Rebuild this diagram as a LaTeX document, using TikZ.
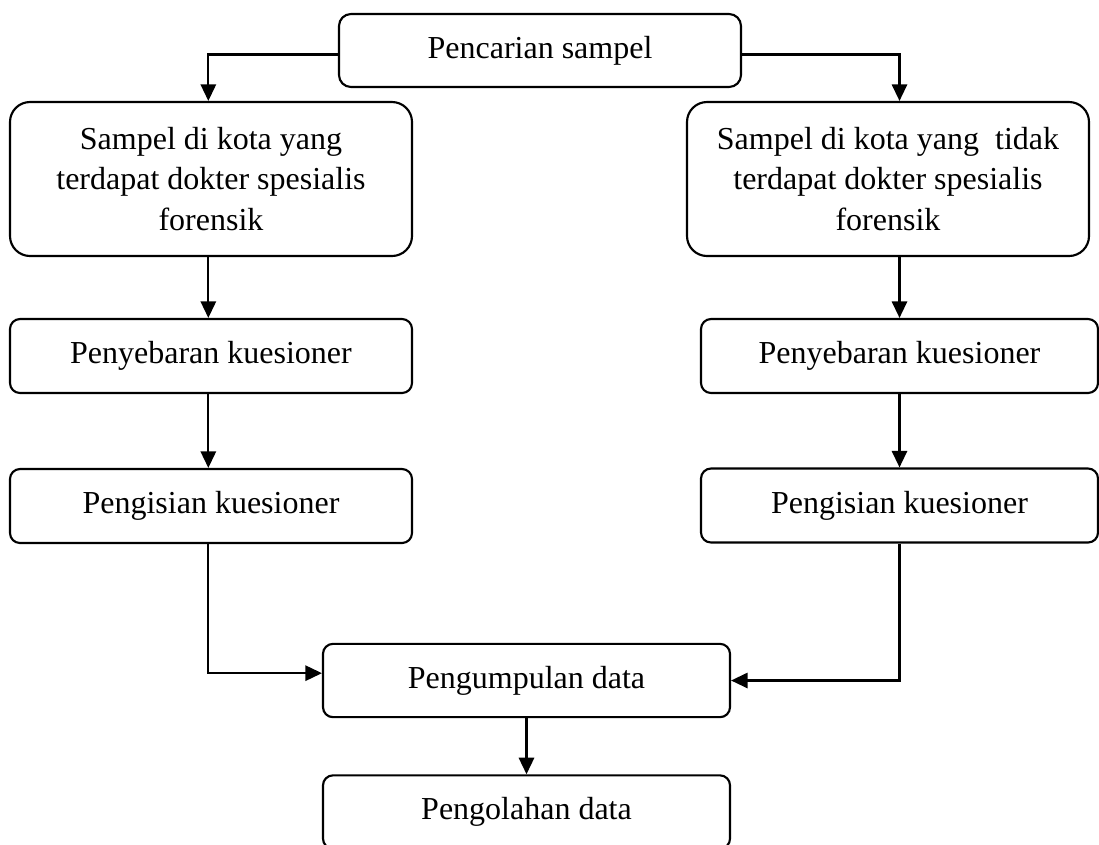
\documentclass[tikz,border=0pt]{standalone}
\usepackage{fontspec}
\setmainfont{Liberation Serif}
\usetikzlibrary{arrows.meta}
\begin{document}
\begin{tikzpicture}[x=0.75pt,y=-0.75pt,
  box/.style={draw, line width=1.6pt, align=center, inner sep=0pt,
    font=\fontsize{24}{30.5}\selectfont},
  bigbox/.style={box, rounded corners=15pt, minimum width=301.5pt, minimum height=115.5pt},
  topbox/.style={box, rounded corners=9pt, minimum width=301.5pt, minimum height=54.75pt},
  lbox/.style={box, rounded corners=7.5pt, minimum width=301.5pt, minimum height=55.5pt},
  rbox/.style={box, rounded corners=7.5pt, minimum width=297.75pt, minimum height=55.5pt},
  cbox/.style={box, rounded corners=7.5pt, minimum width=305.25pt, minimum height=55pt},
  arr/.style={line width=1.7pt, -{Triangle[length=12.5pt,width=11.5pt]}}]
\useasboundingbox (0,0) rectangle (1099,844);
\node[topbox] (top) at (540,50.5) {Pencarian sampel};
\node[bigbox] (L1) at (211,179) {Sampel di kota yang\\terdapat dokter spesialis\\forensik};
\node[bigbox] (R1) at (888,179) {Sampel di kota yang\ \ tidak\\terdapat dokter spesialis\\forensik};
\node[lbox] (L2) at (211,356) {Penyebaran kuesioner};
\node[rbox] (R2) at (899.5,356) {Penyebaran kuesioner};
\node[lbox] (L3) at (211,506) {Pengisian kuesioner};
\node[rbox] (R3) at (899.5,505.5) {Pengisian kuesioner};
\node[cbox] (P4) at (526.5,680.5) {Pengumpulan data};
\node[cbox] (P5) at (526.5,812) {Pengolahan data};
\draw[arr] ([yshift=-3pt]top.west) -| ([xshift=-2pt]L1.north);
\draw[arr] ([yshift=-3pt]top.east) -| (R2.north |- R1.north);
\draw[arr] ([xshift=-2pt]L1.south) -- ([xshift=-2pt]L2.north);
\draw[arr] (R2.north |- R1.south) -- (R2.north);
\draw[arr] ([xshift=-2pt]L2.south) -- ([xshift=-2pt]L3.north);
\draw[arr] (R2.south) -- (R3.north);
\draw[arr] ([xshift=-2pt]L3.south) |- ([yshift=5.5pt]P4.west);
\draw[arr] (R3.south) |- (P4.east);
\draw[arr] (P4.south) -- (P5.north);
\end{tikzpicture}
\end{document}
